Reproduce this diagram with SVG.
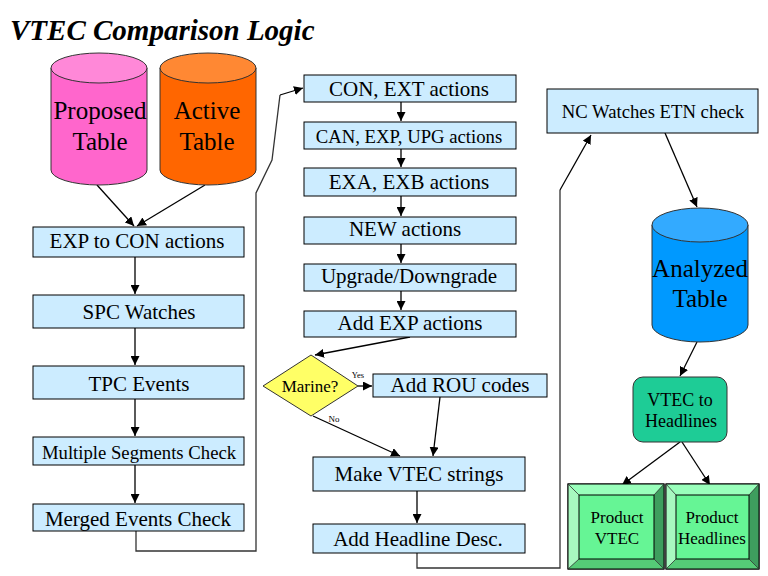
<svg xmlns="http://www.w3.org/2000/svg" width="768" height="576" viewBox="0 0 768 576">
<defs>
<marker id="ah" viewBox="0 0 10 10" refX="10" refY="5" markerWidth="9" markerHeight="9" markerUnits="userSpaceOnUse" orient="auto">
<path d="M0,0 L10,5 L0,10 z" fill="#000"/>
</marker>
<style>
text{fill:#000;font-family:Liberation Serif, serif}
.m{text-anchor:middle}
.box{fill:#CCECFF;stroke:#000;stroke-width:1}
.c{stroke:#000;stroke-width:1.3;fill:none;marker-end:url(#ah)}
.e{stroke:#333;stroke-width:1.3;fill:none}
.t18{font-size:21px}
.t16{font-size:18.7px}
.t24{font-size:25px}
.t15{font-size:17px}
.cyl{stroke:#333;stroke-width:1}
</style>
</defs>
<rect width="768" height="576" fill="#fff"/>
<text x="10" y="40" font-size="29" font-style="italic" font-weight="bold">VTEC Comparison Logic</text>

<g id="connectors">
<path class="c" d="M97,185 L134,226"/>
<path class="c" d="M205,185 L137,226"/>
<path class="c" d="M135,257 L135,294"/>
<path class="c" d="M135,328 L135,365"/>
<path class="c" d="M135,399 L135,436"/>
<path class="c" d="M135,465 L135,503"/>
<path class="e" d="M136,531 L136,551 L256,551 L256,193 L272,160 L280,95"/>
<path class="c" d="M280,95 L303,88"/>
<path class="c" d="M401,102 L401,121"/>
<path class="c" d="M401,149 L401,167"/>
<path class="c" d="M401,196 L401,216"/>
<path class="c" d="M401,244 L401,263"/>
<path class="c" d="M401,291 L401,310"/>
<path class="c" d="M410,337 L315,355"/>
<path class="c" d="M358,386 L372,386"/>
<text class="m" x="358" y="378" font-size="8.5">Yes</text>
<path class="c" d="M313,416 L400,456"/>
<text class="m" x="334" y="422" font-size="9">No</text>
<path class="c" d="M440,397 L433,456"/>
<path class="c" d="M417,491 L417,523"/>
<path class="e" d="M417,553 L417,568 L560,568 L560,190"/>
<path class="c" d="M560,190 L591,135"/>
<path class="c" d="M665,133 L697,207"/>
<path class="c" d="M697,342 L680,376"/>
<path class="c" d="M680,442 L622,485"/>
<path class="c" d="M682,442 L710,485"/>
</g>

<g id="proposed">
<path class="cyl" d="M51,68 L51,170 A48,15 0 0 0 147,170 L147,68 Z" fill="#FF66CC"/>
<ellipse class="cyl" cx="99" cy="68" rx="48" ry="15" fill="#FF88D8"/>
<text class="t24 m" x="100" y="119">Proposed</text>
<text class="t24 m" x="100" y="150">Table</text>
</g>
<g id="active">
<path class="cyl" d="M160,68 L160,170 A48,15 0 0 0 256,170 L256,68 Z" fill="#FF6600"/>
<ellipse class="cyl" cx="208" cy="68" rx="48" ry="15" fill="#FF8833"/>
<text class="t24 m" x="207" y="119">Active</text>
<text class="t24 m" x="207" y="150">Table</text>
</g>

<g id="exp-con"><rect class="box" x="33" y="227" width="211" height="30"/><text class="t18 m" x="137" y="248">EXP to CON actions</text></g>
<g id="spc"><rect class="box" x="33" y="295" width="211" height="33"/><text class="t18 m" x="139" y="319">SPC Watches</text></g>
<g id="tpc"><rect class="box" x="33" y="366" width="211" height="33"/><text class="t18 m" x="139" y="391">TPC Events</text></g>
<g id="multi"><rect class="box" x="33" y="437" width="211" height="28"/><text class="t16 m" x="139" y="459">Multiple Segments Check</text></g>
<g id="merged"><rect class="box" x="33" y="504" width="211" height="27"/><text class="t18 m" x="138" y="526">Merged Events Check</text></g>

<g id="con-ext"><rect class="box" x="304" y="75" width="212" height="27"/><text class="t18 m" x="409" y="96">CON, EXT actions</text></g>
<g id="can-exp"><rect class="box" x="304" y="122" width="212" height="27"/><text class="t16 m" x="409" y="143">CAN, EXP, UPG actions</text></g>
<g id="exa-exb"><rect class="box" x="304" y="168" width="212" height="28"/><text class="t18 m" x="409" y="189">EXA, EXB actions</text></g>
<g id="new"><rect class="box" x="304" y="217" width="212" height="27"/><text class="t18 m" x="405" y="236">NEW actions</text></g>
<g id="updown"><rect class="box" x="304" y="264" width="212" height="27"/><text class="t18 m" x="409" y="283">Upgrade/Downgrade</text></g>
<g id="add-exp"><rect class="box" x="304" y="311" width="212" height="26"/><text class="t18 m" x="410" y="330">Add EXP actions</text></g>

<g id="marine"><path d="M263,386 L311,355 L358,386 L311,416 Z" fill="#FFFF66" stroke="#333" stroke-width="1"/><text class="t15 m" x="310" y="392">Marine?</text></g>
<g id="rou"><rect class="box" x="373" y="374" width="174" height="23"/><text class="t18 m" x="460" y="392">Add ROU codes</text></g>
<g id="make-vtec"><rect class="box" x="313" y="457" width="212" height="34"/><text class="t18 m" x="419" y="481">Make VTEC strings</text></g>
<g id="headline-desc"><rect class="box" x="313" y="524" width="212" height="29"/><text class="t18 m" x="418" y="546">Add Headline Desc.</text></g>

<g id="nc-watches"><rect class="box" x="547" y="89" width="211" height="44"/><text class="t16 m" x="653" y="118">NC Watches ETN check</text></g>

<g id="analyzed">
<path class="cyl" d="M652,225 L652,325 A48,17 0 0 0 748,325 L748,225 Z" fill="#0099FF"/>
<ellipse class="cyl" cx="700" cy="225" rx="48" ry="17" fill="#33AAFF"/>
<text class="t24 m" x="700" y="277">Analyzed</text>
<text class="t24 m" x="700" y="307">Table</text>
</g>

<g id="vtec-headlines"><rect x="633" y="377" width="94" height="65" rx="10" ry="10" fill="#1ECC96" stroke="#333" stroke-width="1"/><text class="m" font-size="18" x="680" y="406">VTEC to</text><text class="m" font-size="18" x="681" y="427">Headlines</text></g>

<g id="product-vtec">
<rect x="568" y="484" width="96" height="85" fill="#66EE99" stroke="#000"/>
<path d="M568,484 L664,484 L654,495 L579,495 Z" fill="#99FFBB"/>
<path d="M568,484 L579,495 L579,559 L568,569 Z" fill="#A8F8C0"/>
<path d="M664,484 L664,569 L654,559 L654,495 Z" fill="#3E9E5E"/>
<path d="M568,569 L579,559 L654,559 L664,569 Z" fill="#55CC77"/>
<rect x="579" y="495" width="75" height="64" fill="#66F595" stroke="#000"/>
<rect x="568" y="484" width="96" height="85" fill="none" stroke="#000"/>
<path d="M568,484 L579,495 M664,484 L654,495 M568,569 L579,559 M664,569 L654,559" stroke="#333" stroke-width="0.8"/>
<text class="m" font-size="17" x="617" y="523">Product</text>
<text class="m" font-size="17" x="617" y="544">VTEC</text>
</g>
<g id="product-headlines">
<rect x="666" y="484" width="93" height="85" fill="#66EE99" stroke="#000"/>
<path d="M666,484 L759,484 L749,495 L676,495 Z" fill="#99FFBB"/>
<path d="M666,484 L676,495 L676,559 L666,569 Z" fill="#A8F8C0"/>
<path d="M759,484 L759,569 L749,559 L749,495 Z" fill="#3E9E5E"/>
<path d="M666,569 L676,559 L749,559 L759,569 Z" fill="#55CC77"/>
<rect x="676" y="495" width="73" height="64" fill="#66F595" stroke="#000"/>
<rect x="666" y="484" width="93" height="85" fill="none" stroke="#000"/>
<path d="M666,484 L676,495 M759,484 L749,495 M666,569 L676,559 M759,569 L749,559" stroke="#333" stroke-width="0.8"/>
<text class="m" font-size="17" x="712" y="523">Product</text>
<text class="m" font-size="17" x="712" y="544">Headlines</text>
</g>
</svg>
